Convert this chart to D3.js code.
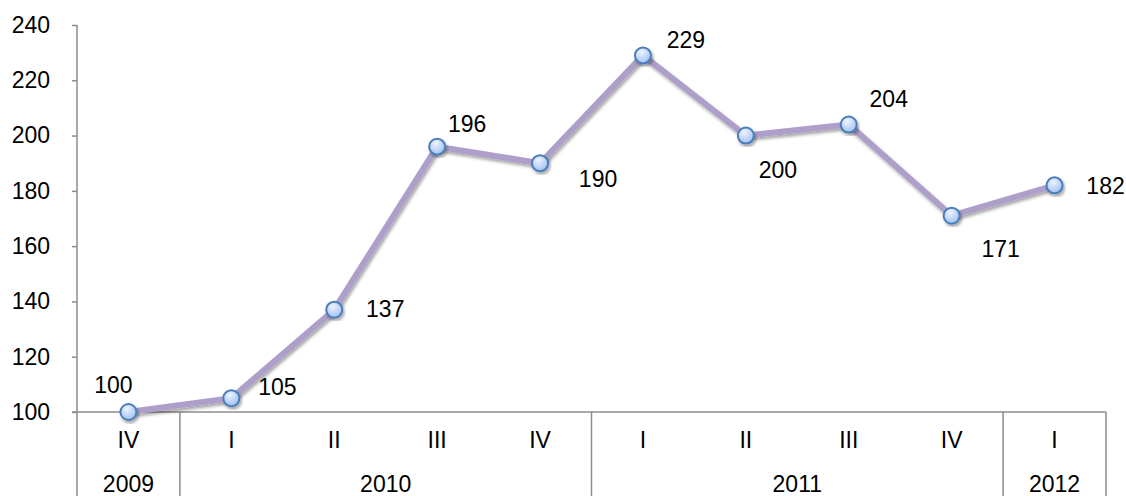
<!DOCTYPE html>
<html>
<head>
<meta charset="utf-8">
<script src="https://cdn.jsdelivr.net/npm/d3@7"></script>
<style>
  body { margin: 0; background: #fff; }
  text { font-family: "Liberation Sans", Arial, sans-serif; fill: #000; }
</style>
</head>
<body>
<script>
// chart data
const quarters = ["IV", "I", "II", "III", "IV", "I", "II", "III", "IV", "I"];
const years = ["2009", "2010", "2010", "2010", "2010", "2011", "2011", "2011", "2011", "2012"];
const values = [100, 105, 137, 196, 190, 229, 200, 204, 171, 182];
const yTicks = [100, 120, 140, 160, 180, 200, 220, 240];

// where each value label sits relative to its point (dx, dy)
const labelOffsets = [[-15, -27], [46, -11], [51, -1], [30, -23], [58, 16],
                      [43, -15], [32, 34], [40, -26], [49, 33], [51, 1]];

const width = 1126, height = 496;
const plotLeft = 77, plotRight = 1106, plotTop = 25, axisY = 412;
const axisColor = "#8c8c8c";
const fontSize = 23;

const svg = d3.select("body").append("svg")
    .attr("width", width)
    .attr("height", height);

const defs = svg.append("defs");
const shadow = defs.append("filter").attr("id", "shadow")
    .attr("x", "-10%").attr("y", "-10%").attr("width", "130%").attr("height", "130%");
shadow.append("feDropShadow")
    .attr("dx", 1.5).attr("dy", 2.5)
    .attr("stdDeviation", 1.8)
    .attr("flood-color", "#000")
    .attr("flood-opacity", 0.35);

const grad = defs.append("radialGradient").attr("id", "dot")
    .attr("cx", "40%").attr("cy", "30%").attr("r", "75%");
grad.append("stop").attr("offset", "0%").attr("stop-color", "#eef3fd");
grad.append("stop").attr("offset", "100%").attr("stop-color", "#9dbef2");

const x = d3.scaleBand()
    .domain(d3.range(values.length))
    .range([plotLeft, plotRight]);

const y = d3.scaleLinear()
    .domain([100, 240])
    .range([axisY, plotTop]);

const cx = i => x(i) + x.bandwidth() / 2;

// y axis
const yAxis = svg.append("g")
    .attr("transform", `translate(${plotLeft},0)`)
    .call(d3.axisLeft(y).tickValues(yTicks).tickSize(5).tickPadding(22));
yAxis.select(".domain").remove();
yAxis.selectAll(".tick line").attr("stroke", axisColor).attr("stroke-width", 1.5);
yAxis.selectAll(".tick text")
    .attr("font-size", fontSize)
    .attr("font-family", "Liberation Sans, Arial, sans-serif")
    .attr("fill", "#000");

svg.append("line")
    .attr("x1", plotLeft).attr("x2", plotLeft)
    .attr("y1", plotTop).attr("y2", height)
    .attr("stroke", axisColor).attr("stroke-width", 1.5);

// x axis line
svg.append("line")
    .attr("x1", plotLeft - 5).attr("x2", plotRight)
    .attr("y1", axisY).attr("y2", axisY)
    .attr("stroke", axisColor).attr("stroke-width", 1.5);

// year groups and separators
const groups = [];
years.forEach((yr, i) => {
  const last = groups[groups.length - 1];
  if (last && last.year === yr) last.end = i;
  else groups.push({ year: yr, start: i, end: i });
});

groups.forEach(g => {
  const xEnd = x(g.end) + x.bandwidth();
  svg.append("line")
      .attr("x1", xEnd).attr("x2", xEnd)
      .attr("y1", axisY).attr("y2", height)
      .attr("stroke", axisColor).attr("stroke-width", 1.5);
  svg.append("text")
      .attr("x", (x(g.start) + xEnd) / 2)
      .attr("y", 484)
      .attr("dy", "0.35em")
      .attr("text-anchor", "middle")
      .attr("font-size", fontSize)
      .text(g.year);
});

svg.selectAll(".q")
  .data(quarters)
  .join("text")
    .attr("class", "q")
    .attr("x", (d, i) => cx(i))
    .attr("y", 440)
    .attr("dy", "0.35em")
    .attr("text-anchor", "middle")
    .attr("font-size", fontSize)
    .text(d => d);

// series line
const line = d3.line()
    .x((d, i) => cx(i))
    .y(d => y(d));

svg.append("path")
    .datum(values)
    .attr("d", line)
    .attr("fill", "none")
    .attr("stroke", "#ad9fca")
    .attr("stroke-width", 6)
    .attr("stroke-linejoin", "round")
    .attr("filter", "url(#shadow)");

svg.selectAll(".pt")
  .data(values)
  .join("circle")
    .attr("class", "pt")
    .attr("cx", (d, i) => cx(i))
    .attr("cy", d => y(d))
    .attr("r", 8)
    .attr("fill", "url(#dot)")
    .attr("stroke", "#4a7ebb")
    .attr("stroke-width", 2)
    .attr("filter", "url(#shadow)");

// value labels
svg.selectAll(".lbl")
  .data(values)
  .join("text")
    .attr("class", "lbl")
    .attr("x", (d, i) => cx(i) + labelOffsets[i][0])
    .attr("y", (d, i) => y(d) + labelOffsets[i][1])
    .attr("dy", "0.35em")
    .attr("text-anchor", "middle")
    .attr("font-size", fontSize)
    .text(d => d);
</script>
</body>
</html>
